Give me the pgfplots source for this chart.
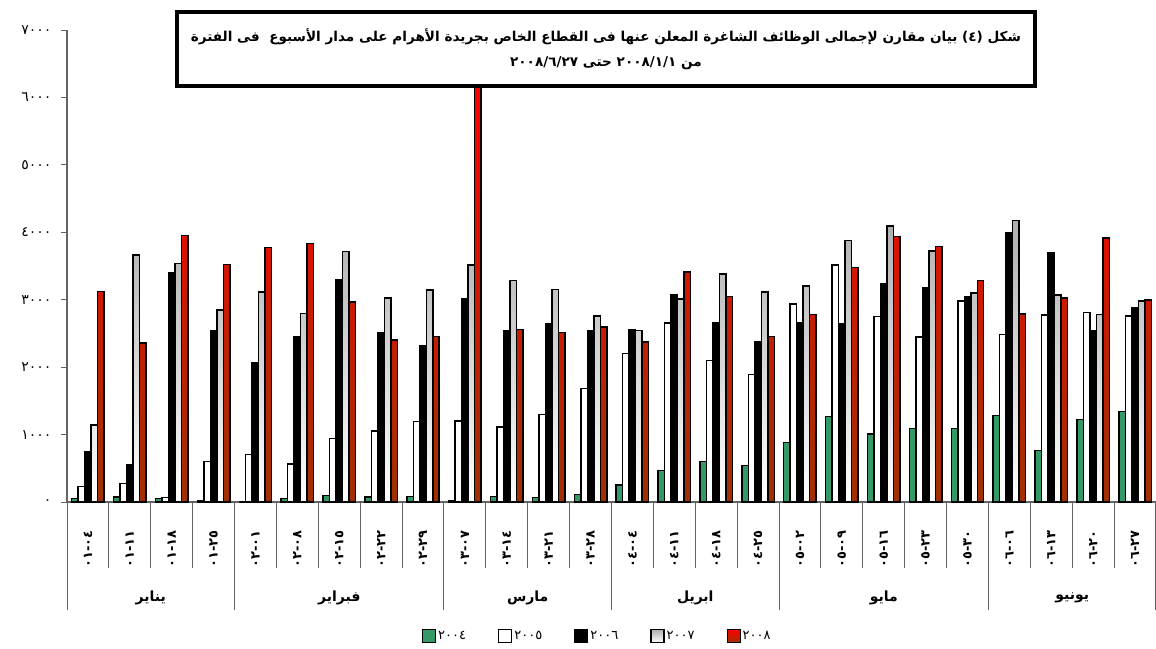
\documentclass[border=0pt]{standalone}
\usepackage{pgfplots}
\pgfplotsset{compat=1.18}
\usepackage{pgfplotstable}
\usepackage{fontspec}
\setmainfont{DejaVu Sans}
\newfontfamily\arabicfont[Script=Arabic]{DejaVu Sans}
\TeXXeTstate=1

\definecolor{cgreen}{RGB}{51,153,102}
\definecolor{cgray}{RGB}{175,175,175}
\definecolor{cbrown}{RGB}{160,48,0}
\definecolor{axgray}{RGB}{100,100,100}

\pgfplotsset{sqleg/.style={legend image code/.code={\draw[##1,line width=1.2pt] (0pt,-6.5pt) rectangle (13pt,6.5pt);}}}
\newcommand{\wk}[2]{#1\kern0pt-\kern0pt#2}

\pgfplotstableread{
x a b c d e
0 50 232 746 1141 3122
1 75 272 553 3665 2356
2 50 65 3403 3537 3952
3 25 603 2540 2851 3522
4 0 702 2065 3112 3774
5 50 563 2451 2796 3833
6 99 944 3295 3715 2969
7 75 1052 2510 3023 2400
8 85 1196 2311 3141 2451
9 15 1200 3013 3517 6250
10 84 1112 2544 3285 2559
11 65 1299 2643 3151 2514
12 114 1680 2534 2756 2593
13 252 2199 2559 2544 2376
14 470 2658 3073 3013 3414
15 599 2100 2658 3384 3048
16 539 1892 2376 3112 2455
17 885 2940 2658 3206 2779
18 1270 3517 2643 3877 3477
19 1008 2751 3236 4090 3937
20 1092 2445 3177 3719 3789
21 1092 2978 3038 3102 3285
22 1280 2485 3991 4174 2791
23 766 2776 3700 3067 3028
24 1225 2811 2534 2781 3917
25 1339 2762 2875 2984 2999
}\data

\begin{document}
\begin{tikzpicture}
\path[use as bounding box] (0,0) rectangle (1156pt,648pt);
\begin{axis}[
  at={(67pt,146pt)}, anchor=south west,
  scale only axis, width=1089pt, height=472pt,
  clip=false,
  ybar=0pt, bar width=0.155,
  xmin=-0.5, xmax=25.5, ymin=0, ymax=7000,
  enlarge x limits=false,
  axis lines=left, axis line style={-, draw=axgray, line width=1.2pt},
  tick align=outside,
  ytick={0,1000,...,7000},
  yticklabels={٠,١٠٠٠,٢٠٠٠,٣٠٠٠,٤٠٠٠,٥٠٠٠,٦٠٠٠,٧٠٠٠},
  yticklabel style={font=\arabicfont\fontsize{14}{16}\selectfont, xshift=-6pt},
  major tick length=6pt,
  tick style={draw=axgray, line width=1pt},
  xtick={0,...,25},
  xtick style={/pgfplots/major tick length=0pt},
  xticklabels={\wk{٠١}{٠٤},\wk{٠١}{١١},\wk{٠١}{١٨},\wk{٠١}{٢٥},\wk{٠٢}{٠١},\wk{٠٢}{٠٨},\wk{٠٢}{١٥},\wk{٠٢}{٢٢},\wk{٠٢}{٢٩},\wk{٠٣}{٠٧},\wk{٠٣}{١٤},\wk{٠٣}{٢١},\wk{٠٣}{٢٨},\wk{٠٤}{٠٤},\wk{٠٤}{١١},\wk{٠٤}{١٨},\wk{٠٤}{٢٥},\wk{٠٥}{٠٢},\wk{٠٥}{٠٩},\wk{٠٥}{١٦},\wk{٠٥}{٢٣},\wk{٠٥}{٣٠},\wk{٠٦}{٠٦},\wk{٠٦}{١٣},\wk{٠٦}{٢٠},\wk{٠٦}{٢٧}},
  xticklabel style={font=\arabicfont\bfseries\fontsize{13}{15}\selectfont, rotate=90, anchor=east},
  xticklabel shift=19pt,
  minor xtick={-0.5,0.5,...,25.5},
  minor tick length=66pt,
  legend columns=-1,
  legend style={at={(0.487,-0.284)}, anchor=center, draw=none, fill=none,
    font=\arabicfont\fontsize{13}{15}\selectfont,
    /tikz/every even column/.append style={column sep=30pt}},
]
\addplot[draw=black, line width=1.5pt, fill=cgreen, sqleg] table[x=x,y=a]{\data};
\addplot[draw=black, line width=1.5pt, fill=white, sqleg] table[x=x,y=b]{\data};
\addplot[draw=black, line width=1.5pt, fill=black, sqleg] table[x=x,y=c]{\data};
\addplot[draw=black, line width=1.5pt, top color=cgray, bottom color=white, sqleg] table[x=x,y=d]{\data};
\addplot[draw=black, line width=1.5pt, top color=red, bottom color=cbrown, sqleg] table[x=x,y=e]{\data};
\legend{٢٠٠٤,٢٠٠٥,٢٠٠٦,٢٠٠٧,٢٠٠٨}
\foreach \c in {-0.5,3.5,8.5,12.5,16.5,21.5,25.5}{
  \edef\temp{\noexpand\draw[draw=axgray, line width=1pt] (axis cs:\c,0) -- ++(0pt,-108pt);}
  \temp
}
\foreach \c/\m in {1.5/يناير, 6/فبراير, 10.5/مارس, 14.5/ابريل, 19/مايو, 23.5/يونيو}{
  \edef\temp{\noexpand\node[font=\noexpand\arabicfont\noexpand\bfseries\noexpand\fontsize{14}{16}\noexpand\selectfont, yshift=-96pt] at (axis cs:\c,0) {\m};}
  \temp
}
\end{axis}
\node[draw=black, line width=4pt, fill=white, minimum width=858pt, minimum height=74pt, align=center,
  font=\arabicfont\bfseries\fontsize{13.6}{25}\selectfont] at (606pt,599pt)
  {\beginR شكل (٤) بيان مقارن لإجمالى الوظائف الشاغرة المعلن عنها فى القطاع الخاص بجريدة الأهرام على مدار الأسبوع\ \ فى الفترة\endR\\
   \beginR من ٢٠٠٨/١/١ حتى ٢٠٠٨/٦/٢٧\endR};
\end{tikzpicture}
\end{document}
